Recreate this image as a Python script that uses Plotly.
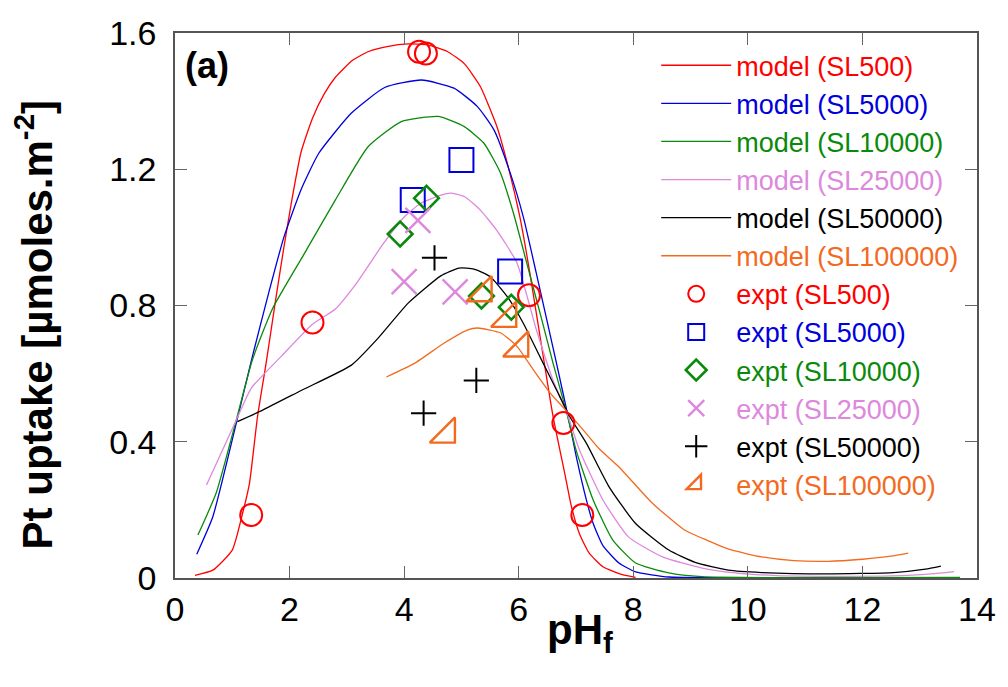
import plotly.graph_objects as go

# ---------------- data ----------------
sl_labels = ["SL500", "SL5000", "SL10000", "SL25000", "SL50000", "SL100000"]
colors = ["#ff0000", "#0000dd", "#0a8a0a", "#dd88dd", "#000000", "#f36a1f"]

# model curves
m500_x = [0.35, 0.66, 1.00, 1.18, 1.30, 1.44, 1.59, 1.76, 1.90, 2.04, 2.20, 2.40, 2.60, 2.80, 3.10, 3.37,
          3.70, 4.07, 4.41, 4.76, 5.05, 5.33, 5.62, 5.80, 6.02, 6.19, 6.40, 6.60, 6.80, 6.92, 7.06, 7.23,
          7.47, 7.81, 8.04]
m500_y = [0.008, 0.023, 0.082, 0.19, 0.278, 0.473, 0.63, 0.82, 0.97, 1.11, 1.25, 1.35, 1.42, 1.47, 1.52, 1.545,
          1.56, 1.568, 1.565, 1.545, 1.51, 1.443, 1.325, 1.218, 1.06, 0.90, 0.68, 0.474, 0.31, 0.21, 0.13, 0.073,
          0.033, 0.01, 0.002]

m5000_x = [0.38, 0.66, 1.07, 1.35, 1.64, 1.90, 2.20, 2.51, 3.08, 3.66, 4.30, 4.87, 5.28, 5.57, 5.85,
           6.08, 6.30, 6.66, 6.88, 7.00, 7.18, 7.30, 7.47, 7.75, 8.04, 8.62, 9.50, 11.0, 13.7]
m5000_y = [0.07, 0.18, 0.455, 0.65, 0.84, 1.00, 1.14, 1.247, 1.365, 1.44, 1.462, 1.438, 1.384, 1.315, 1.19,
           1.06, 0.90, 0.63, 0.46, 0.36, 0.23, 0.16, 0.095, 0.044, 0.018, 0.003, 0.001, 0.0, 0.001]

m10000_x = [0.40, 0.72, 1.07, 1.35, 1.70, 2.25, 2.80, 3.37, 3.95, 4.60, 5.05, 5.39, 5.68, 5.91, 6.14,
            6.40, 6.60, 6.83, 7.00, 7.30, 7.64, 8.04, 8.62, 9.20, 10.5, 12.0, 13.7]
m10000_y = [0.126, 0.25, 0.464, 0.64, 0.79, 0.95, 1.11, 1.266, 1.34, 1.355, 1.325, 1.277, 1.19, 1.07, 0.925,
            0.76, 0.63, 0.49, 0.376, 0.229, 0.112, 0.044, 0.015, 0.004, 0.001, 0.001, 0.002]

m25000_x = [0.55, 1.07, 1.33, 1.85, 2.40, 2.80, 3.17, 3.63, 4.00, 4.29, 4.64, 4.81, 5.05, 5.33, 5.62,
            5.97, 6.31, 6.60, 6.83, 7.06, 7.47, 7.92, 8.51, 9.20, 9.78, 10.5, 11.5, 12.5, 13.2, 13.6]
m25000_y = [0.273, 0.464, 0.557, 0.65, 0.745, 0.79, 0.866, 0.98, 1.06, 1.10, 1.124, 1.13, 1.12, 1.08, 1.02,
            0.925, 0.728, 0.58, 0.49, 0.376, 0.229, 0.12, 0.062, 0.029, 0.015, 0.007, 0.005, 0.006, 0.012, 0.019]

m50000_x = [1.09, 1.53, 2.22, 3.08, 3.55, 4.07, 4.64, 4.96, 5.22, 5.50, 5.80, 6.08, 6.37, 6.66, 6.89,
            7.18, 7.58, 8.04, 8.62, 9.08, 9.66, 10.24, 11.38, 12.54, 13.10, 13.37]
m50000_y = [0.459, 0.493, 0.552, 0.625, 0.705, 0.807, 0.887, 0.91, 0.907, 0.885, 0.826, 0.748, 0.65, 0.552, 0.474,
            0.396, 0.267, 0.16, 0.082, 0.046, 0.023, 0.016, 0.012, 0.016, 0.026, 0.035]

m100000_x = [3.69, 4.18, 4.70, 5.10, 5.28, 5.68, 5.97, 6.26, 6.54, 6.78, 7.10, 7.40, 7.75, 8.33, 8.90,
             9.30, 9.70, 10.24, 10.80, 11.40, 12.00, 12.50, 12.80]
m100000_y = [0.59, 0.63, 0.69, 0.728, 0.734, 0.72, 0.68, 0.61, 0.545, 0.50, 0.44, 0.38, 0.326, 0.22, 0.14,
             0.11, 0.083, 0.062, 0.051, 0.049, 0.055, 0.064, 0.073]

# experimental points
e500_x = [1.33, 2.40, 4.26, 4.38, 6.18, 6.78, 7.11]
e500_y = [0.185, 0.75, 1.545, 1.54, 0.83, 0.455, 0.185]

e5000_x = [4.15, 5.00, 5.85]
e5000_y = [1.11, 1.227, 0.90]

e10000_x = [3.93, 4.39, 5.35, 5.87]
e10000_y = [1.01, 1.115, 0.828, 0.795]

e25000_x = [4.00, 4.24, 4.89]
e25000_y = [0.87, 1.05, 0.84]

e50000_x = [4.53, 5.26, 4.34]
e50000_y = [0.94, 0.58, 0.484]

e100000_x = [5.38, 5.81, 6.02, 4.74]
e100000_y = [0.837, 0.762, 0.675, 0.422]

x_ticks = [0, 2, 4, 6, 8, 10, 12, 14]
y_ticks = [0, 0.4, 0.8, 1.2, 1.6]
y_ticktext = ["0", "0.4", "0.8", "1.2", "1.6"]

model_x = [m500_x, m5000_x, m10000_x, m25000_x, m50000_x, m100000_x]
model_y = [m500_y, m5000_y, m10000_y, m25000_y, m50000_y, m100000_y]
expt_x = [e500_x, e5000_x, e10000_x, e25000_x, e50000_x, e100000_x]
expt_y = [e500_y, e5000_y, e10000_y, e25000_y, e50000_y, e100000_y]

symbols = ["circle-open", "square-open", "diamond-open", "x-thin-open", "cross-thin-open", "triangle-se-open"]
sizes = [22, 24, 19, 25, 18, 28]
widths = [2, 2, 2.6, 2.4, 2, 2.4]

FONT = "Liberation Sans, Arial, sans-serif"

fig = go.Figure()
for i, lab in enumerate(sl_labels):
    fig.add_trace(go.Scatter(
        x=model_x[i], y=model_y[i], mode="lines",
        line=dict(color=colors[i], width=1.3, shape="spline", smoothing=0.5),
        name=f'<span style="color:{colors[i]}">model ({lab})</span>',
    ))
for i, lab in enumerate(sl_labels):
    fig.add_trace(go.Scatter(
        x=expt_x[i], y=expt_y[i], mode="markers",
        marker=dict(symbol=symbols[i], size=sizes[i], color=colors[i],
                    line=dict(color=colors[i], width=widths[i])),
        name=f'<span style="color:{colors[i]}">expt ({lab})</span>',
    ))

axis_common = dict(
    showline=True, linecolor="#555555", linewidth=1.5, mirror="ticks",
    ticks="inside", ticklen=12, tickwidth=1, tickcolor="#666666",
    showgrid=False, zeroline=False,
    tickfont=dict(family=FONT, size=34, color="#000000"),
)

fig.update_layout(
    width=1008, height=687,
    margin=dict(l=175, r=24, t=33, b=109),
    paper_bgcolor="white", plot_bgcolor="white",
    font=dict(family=FONT, color="#000000"),
    xaxis=dict(range=[0, 14], tickvals=x_ticks, ticklabelstandoff=0, **axis_common),
    yaxis=dict(range=[0, 1.6], tickvals=y_ticks, ticktext=y_ticktext, ticklabelstandoff=10, **axis_common),
    legend=dict(x=0.60, y=0.985, xanchor="left", yanchor="top",
                bgcolor="rgba(0,0,0,0)", borderwidth=0,
                font=dict(family=FONT, size=27), itemwidth=70,
                tracegroupgap=0),
    showlegend=True,
    annotations=[
        dict(text="<b>(a)</b>", x=0.01, y=0.94, xref="paper", yref="paper",
             xanchor="left", yanchor="middle", showarrow=False,
             font=dict(family=FONT, size=36, color="#000000")),
        dict(text="<b>Pt uptake [µmoles.m<sup>-2</sup>]</b>", x=-0.176, y=0.465, xref="paper", yref="paper",
             xanchor="center", yanchor="middle", textangle=-90, showarrow=False,
             font=dict(family=FONT, size=42, color="#000000")),
        dict(text="<b>pH<sub>f</sub></b>", x=0.505, y=-0.10, xref="paper", yref="paper",
             xanchor="center", yanchor="middle", showarrow=False,
             font=dict(family=FONT, size=42, color="#000000")),
    ],
)

fig.write_html("out.html")
